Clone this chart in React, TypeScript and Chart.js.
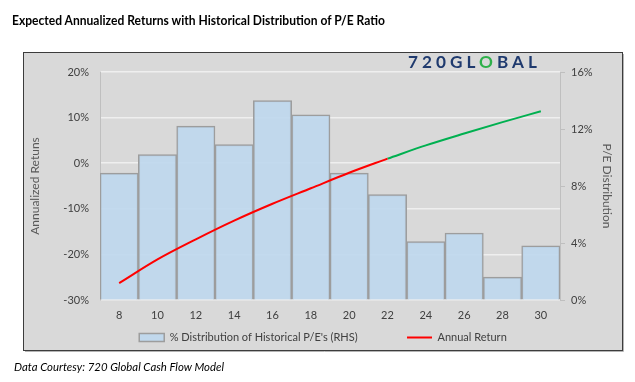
import React, { useEffect, useLayoutEffect, useRef } from 'react';
import { Chart, registerables } from 'chart.js';

Chart.register(...registerables);

// ---------- data ----------
const categories = ['8', '10', '12', '14', '16', '18', '20', '22', '24', '26', '28', '30'];
const peDistribution = [8.9, 10.2, 12.2, 10.9, 14.0, 13.0, 8.9, 7.4, 4.1, 4.7, 1.6, 3.8];
const annualReturnRed = [-26.3, -21.1, -16.7, -12.6, -8.9, -5.5, -2.1, 1.0, null, null, null, null];
const annualReturnGreen = [null, null, null, null, null, null, null, 1.0, 3.9, 6.5, 9.0, 11.4];
const leftTickRange = { min: -30, max: 20, step: 10 };
const rightTickRange = { min: 0, max: 16, step: 4 };

const barLabel = "% Distribution of Historical P/E's (RHS)";
const lineLabel = 'Annual Return';

const FONT = 'Lato';
const TEXT = '#404040';

const boxPlugin = {
  id: 'greyBox',
  beforeDraw(chart: any) {
    const ctx = chart.ctx;
    ctx.save();
    ctx.fillStyle = '#ffffff';
    ctx.fillRect(0, 0, chart.width, chart.height);
    ctx.fillStyle = '#d9d9d9';
    ctx.fillRect(23, 52, 599, 298);
    ctx.strokeStyle = '#3c3c3c';
    ctx.lineWidth = 1;
    ctx.strokeRect(23.5, 52.5, 599, 298);
    ctx.strokeStyle = '#b4b4b4';
    ctx.beginPath();
    ctx.moveTo(25, 351.5);
    ctx.lineTo(623.5, 351.5);
    ctx.lineTo(623.5, 54);
    ctx.stroke();
    ctx.restore();
  },
};

function FitText(props: { width: number; style: React.CSSProperties; children: React.ReactNode }) {
  const ref = useRef<HTMLDivElement>(null);
  useLayoutEffect(() => {
    const el = ref.current;
    if (!el) return;
    el.style.transform = 'none';
    const w = el.getBoundingClientRect().width;
    if (w > 0) el.style.transform = `scaleX(${props.width / w})`;
  });
  return (
    <div
      ref={ref}
      style={{
        position: 'absolute',
        whiteSpace: 'nowrap',
        transformOrigin: 'left top',
        display: 'inline-block',
        ...props.style,
      }}
    >
      {props.children}
    </div>
  );
}

export default function App() {
  const canvasRef = useRef<HTMLCanvasElement>(null);

  useEffect(() => {
    const canvas = canvasRef.current;
    if (!canvas) return;

    // spacing between legend entries (reference has a wide gap)
    const mctx = document.createElement('canvas').getContext('2d')!;
    mctx.font = `11px ${FONT}`;
    const spaceW = mctx.measureText(' ').width || 3;
    const pad = ' '.repeat(Math.max(0, Math.round(40 / spaceW)));

    const chart = new Chart(canvas, {
      type: 'bar',
      data: {
        labels: categories,
        datasets: [
          {
            type: 'bar',
            label: barLabel + pad,
            data: peDistribution,
            yAxisID: 'y1',
            backgroundColor: 'rgba(189, 215, 238, 0.88)',
            borderColor: '#9d9d9d',
            borderWidth: 1.5,
            barPercentage: 1,
            categoryPercentage: 1,
            pointStyle: 'rect',
            order: 2,
          } as any,
          {
            type: 'line',
            label: lineLabel,
            data: annualReturnRed,
            yAxisID: 'y',
            borderColor: '#ff0000',
            backgroundColor: '#ff0000',
            borderWidth: 2,
            pointRadius: 0,
            pointStyle: 'line',
            cubicInterpolationMode: 'monotone',
            spanGaps: false,
            order: 1,
          } as any,
          {
            type: 'line',
            label: 'Annual Return (projected)',
            data: annualReturnGreen,
            yAxisID: 'y',
            borderColor: '#00b050',
            backgroundColor: '#00b050',
            borderWidth: 2,
            pointRadius: 0,
            pointStyle: 'line',
            cubicInterpolationMode: 'monotone',
            spanGaps: false,
            order: 1,
          } as any,
        ],
      },
      options: {
        responsive: false,
        animation: false,
        devicePixelRatio: 1,
        layout: { padding: { left: 24, right: 13, top: 72, bottom: 29 } },
        plugins: {
          tooltip: { enabled: false },
          legend: {
            position: 'bottom',
            labels: {
              font: { family: FONT, size: 11 },
              color: TEXT,
              usePointStyle: true,
              pointStyleWidth: 25,
              boxHeight: 8,
              padding: 10,
              filter: (item: any) => item.datasetIndex !== 2,
              sort: (a: any, b: any) => a.datasetIndex - b.datasetIndex,
            },
          },
        },
        scales: {
          x: {
            type: 'category',
            grid: { display: false, drawTicks: false },
            border: { display: false },
            ticks: { color: TEXT, font: { family: FONT, size: 11 }, padding: 9, maxRotation: 0 },
            afterFit: (s: any) => {
              s.height = 22;
            },
          },
          y: {
            position: 'left',
            min: leftTickRange.min,
            max: leftTickRange.max,
            ticks: {
              stepSize: leftTickRange.step,
              color: TEXT,
              font: { family: FONT, size: 11 },
              padding: 11,
              callback: (v: any) => `${v}%`,
            },
            grid: { color: '#efefef', lineWidth: 1.5, drawTicks: false },
            border: { display: true, color: '#bfbfbf', width: 1 },
            title: {
              display: true,
              text: 'Annualized Retuns',
              color: '#595959',
              font: { family: FONT, size: 12 },
              padding: { top: 4, bottom: 0 },
            },
            afterFit: (s: any) => {
              s.width = 76;
            },
          },
          y1: {
            position: 'right',
            min: rightTickRange.min,
            max: rightTickRange.max,
            ticks: {
              stepSize: rightTickRange.step,
              color: TEXT,
              font: { family: FONT, size: 11 },
              padding: 6,
              callback: (v: any) => `${v}%`,
            },
            grid: { drawOnChartArea: false, drawTicks: true, tickLength: 5, color: '#bfbfbf' },
            border: { display: true, color: '#bfbfbf', width: 1 },
            title: {
              display: true,
              text: 'P/E Distribution',
              color: '#595959',
              font: { family: FONT, size: 12 },
              padding: { top: 8, bottom: 0 },
            },
            afterFit: (s: any) => {
              s.width = 62;
            },
          },
        },
      } as any,
      plugins: [boxPlugin],
    });

    return () => chart.destroy();
  }, []);

  return (
    <div
      style={{
        position: 'fixed',
        left: 0,
        top: 0,
        width: 635,
        height: 382,
        background: '#ffffff',
        overflow: 'hidden',
      }}
    >
      <canvas ref={canvasRef} width={635} height={382} style={{ position: 'absolute', left: 0, top: 0, width: 635, height: 382 }} />
      <FitText
        width={373}
        style={{ left: 12, top: 11, fontFamily: FONT, fontWeight: 700, fontSize: 14, lineHeight: '17px', color: '#000000' }}
      >
        Expected Annualized Returns with Historical Distribution of P/E Ratio
      </FitText>
      <FitText
        width={133}
        style={{ left: 408, top: 52, fontFamily: FONT, fontWeight: 700, fontSize: 17, lineHeight: '20px', letterSpacing: 4, color: '#1f3a6e' }}
      >
        720GL<span style={{ color: '#2fb04a' }}>O</span>BAL
      </FitText>
      <FitText
        width={210}
        style={{ left: 14, top: 360, fontFamily: FONT, fontStyle: 'italic', fontSize: 11, lineHeight: '13px', color: '#000000' }}
      >
        Data Courtesy: 720 Global Cash Flow Model
      </FitText>
    </div>
  );
}
